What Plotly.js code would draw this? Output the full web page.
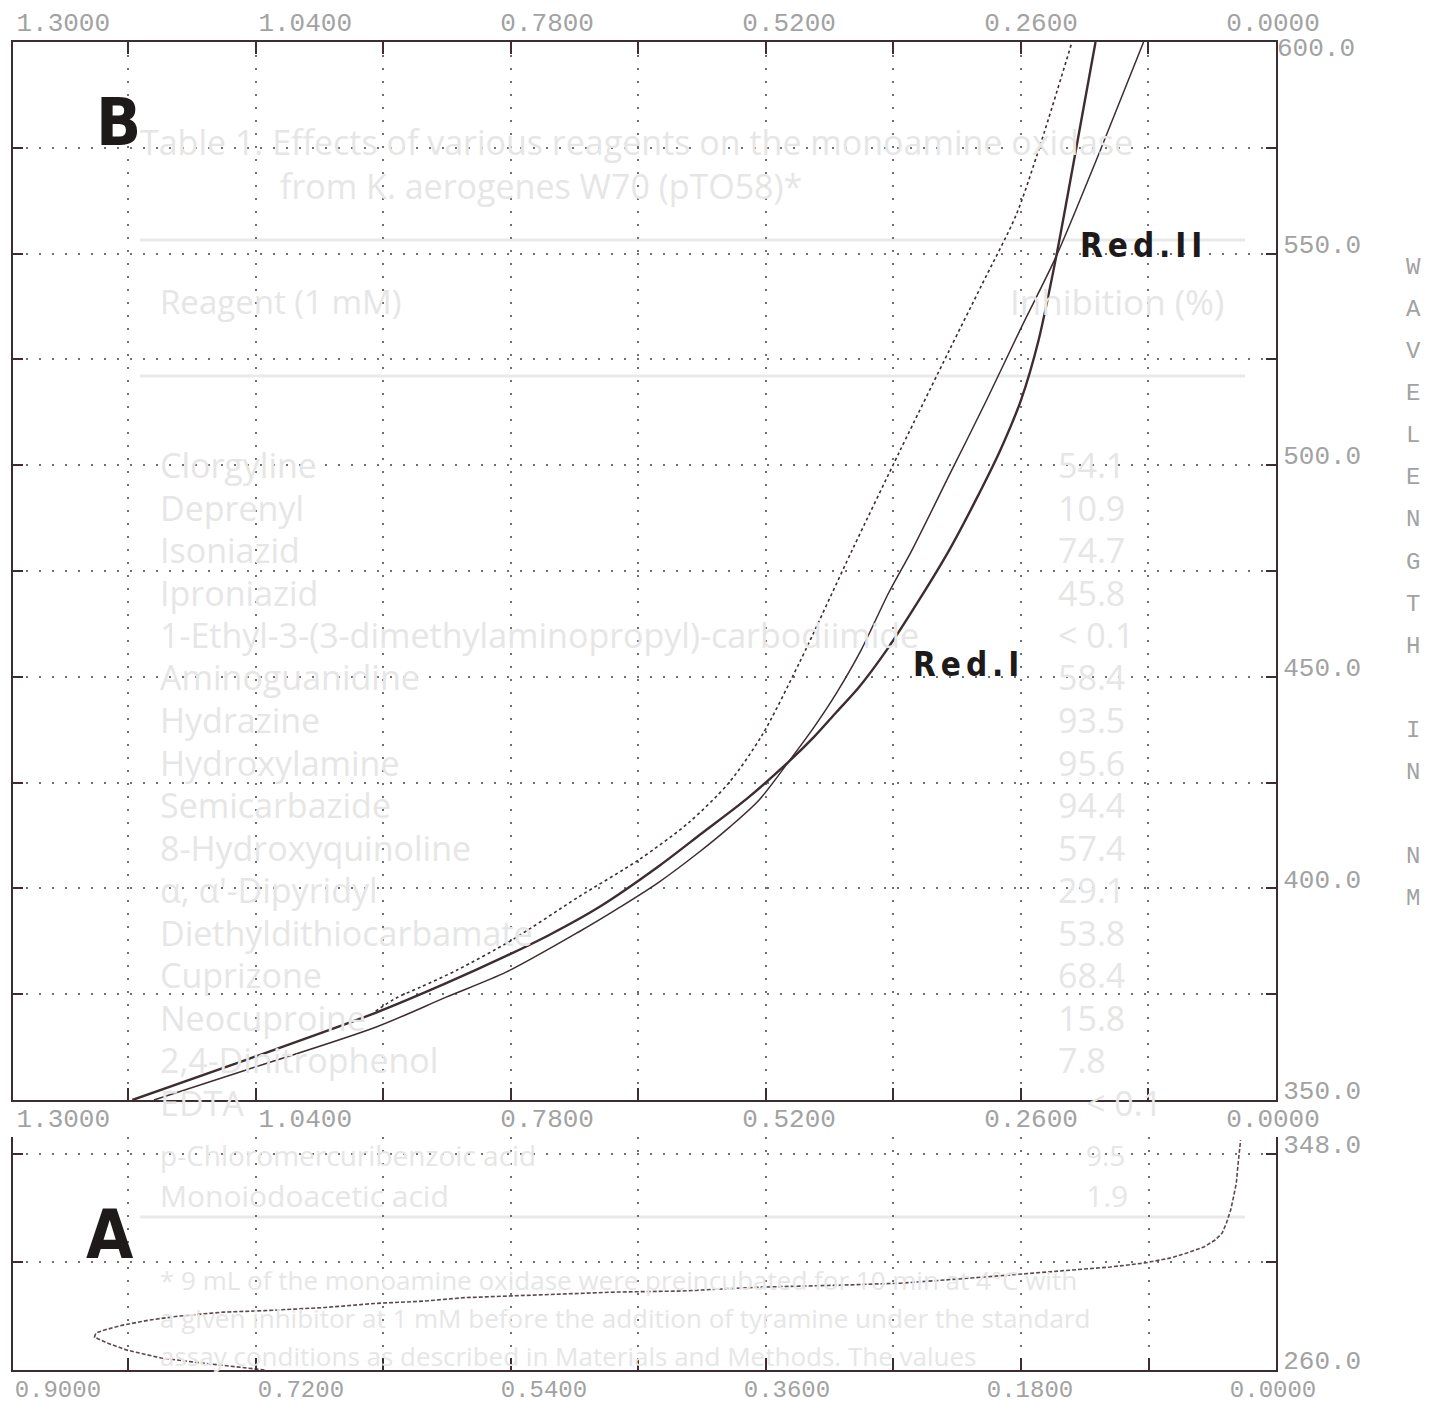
<!DOCTYPE html>
<html>
<head>
<meta charset="utf-8">
<script src="https://cdn.plot.ly/plotly-3.0.1.min.js"></script>
<style>
html,body{margin:0;padding:0;background:#ffffff;}
#chart{width:1447px;height:1405px;}
</style>
</head>
<body>
<div id="chart"></div>
<script>
// ---------- Panel B: absorbance vs wavelength (nm) ----------
const redI_wavelength  = [350.0, 359.5, 370.6, 377.6, 383.8, 389.0, 395.6, 405.3, 413.1, 421.1, 429.9, 435.8, 441.7, 447.6, 456.3, 468.1, 480.0, 491.8, 503.6, 515.4, 529.6, 549.4, 574.5, 600.0];
const redI_absorbance  = [1.166, 1.050, 0.918, 0.846, 0.787, 0.741, 0.690, 0.629, 0.585, 0.540, 0.497, 0.471, 0.448, 0.425, 0.397, 0.364, 0.333, 0.306, 0.281, 0.260, 0.242, 0.224, 0.204, 0.184];

const redII_wavelength = [350.0, 357.1, 367.2, 374.3, 380.2, 389.7, 395.4, 401.5, 408.6, 414.3, 420.9, 429.9, 438.1, 446.2, 456.3, 469.8, 480.0, 497.7, 515.4, 532.4, 549.4, 574.5, 600.0];
const redII_absorbance = [1.144, 1.050, 0.918, 0.846, 0.785, 0.711, 0.670, 0.629, 0.588, 0.558, 0.527, 0.497, 0.471, 0.448, 0.423, 0.395, 0.371, 0.333, 0.295, 0.260, 0.224, 0.179, 0.135];

const dotted_wavelength = [371.0, 374.1, 376.7, 380.7, 387.8, 398.0, 406.7, 415.5, 424.9, 436.2, 453.3, 480.0, 503.6, 527.2, 542.6, 559.1, 574.5, 600.0];
const dotted_absorbance = [0.918, 0.897, 0.872, 0.835, 0.779, 0.711, 0.650, 0.599, 0.558, 0.524, 0.486, 0.432, 0.383, 0.333, 0.300, 0.265, 0.242, 0.208];

// ---------- Panel A ----------
const a_wavelength = [260.0, 260.8, 262.0, 263.3, 264.9, 266.9, 268.1, 271.0, 273.4, 275.1, 276.3, 278.3, 280.4, 282.0, 283.6, 284.2, 285.5, 287.1, 288.1, 289.5, 290.1, 290.8, 291.4, 291.8, 292.2, 293.8, 294.6, 295.4, 297.5, 299.9, 302.0, 303.6, 305.6, 307.7, 310.1, 313.0, 315.8, 319.9, 325.2, 330.5, 336.2, 342.7, 348.8, 353.7];
const a_absorbance = [0.714, 0.727, 0.746, 0.765, 0.787, 0.801, 0.811, 0.825, 0.834, 0.833, 0.827, 0.814, 0.795, 0.774, 0.743, 0.714, 0.671, 0.637, 0.601, 0.573, 0.546, 0.520, 0.492, 0.465, 0.420, 0.364, 0.307, 0.265, 0.215, 0.166, 0.117, 0.093, 0.075, 0.063, 0.051, 0.043, 0.038, 0.035, 0.032, 0.030, 0.028, 0.027, 0.026, 0.025];

// ---------- Tick labels ----------
const bXTickVals = [1.3, 1.04, 0.78, 0.52, 0.26, 0.0];
const bXTickText = ["1.3000", "1.0400", "0.7800", "0.5200", "0.2600", "0.0000"];
const aXTickVals = [0.9, 0.72, 0.54, 0.36, 0.18, 0.0];
const aXTickText = ["0.9000", "0.7200", "0.5400", "0.3600", "0.1800", "0.0000"];
const bYTickVals = [350, 375, 400, 425, 450, 475, 500, 525, 550, 575, 600];
const bYTickText = ["350.0", "", "400.0", "", "450.0", "", "500.0", "", "550.0", "", "600.0"];
const aYTickVals = [260, 304, 348];
const aYTickText = ["260.0", "", "348.0"];
const sideTitle = "WAVELENGTH IN NM";
const panelLabels = ["B", "A"];
const curveLabels = ["R\u2006e\u2006d\u2006.\u2006I\u2006I", "R\u2006e\u2006d\u2006.\u2006I"];

// ---------- faint show-through text of the facing page ----------
const ghostTitle = ["Table 1. Effects of various reagents on the monoamine oxidase", "from K. aerogenes W70 (pTO58)*"];
const ghostHeader = ["Reagent (1 mM)", "Inhibition (%)"];
const ghostReagents = ["Clorgyline", "Deprenyl", "Isoniazid", "Iproniazid", "1-Ethyl-3-(3-dimethylaminopropyl)-carbodiimide", "Aminoguanidine", "Hydrazine", "Hydroxylamine", "Semicarbazide", "8-Hydroxyquinoline", "\u03B1, \u03B1'-Dipyridyl", "Diethyldithiocarbamate", "Cuprizone", "Neocuproine", "2,4-Dinitrophenol", "EDTA", "p-Chloromercuribenzoic acid", "Monoiodoacetic acid"];
const ghostInhibition = ["54.1", "10.9", "74.7", "45.8", "< 0.1", "58.4", "93.5", "95.6", "94.4", "57.4", "29.1", "53.8", "68.4", "15.8", "7.8", "< 0.1", "9.5", "1.9"];
const ghostFootnote = ["* 9 mL of the monoamine oxidase were preincubated for 10 min at 4\u00B0C with", "a given inhibitor at 1 mM before the addition of tyramine under the standard", "assay conditions as described in Materials and Methods. The values"];

// ---------- styling / geometry ----------
const W = 1447, H = 1405;
const px = v => v / W;
const py = v => 1 - v / H;
const INK = '#3d2c30';
const GRID = '#707070';
const GRIDDASH = '2px,11px';
const MONO = 'Liberation Mono, DejaVu Sans Mono, monospace';
const LABELGREY = '#a2a2a2';
const TICKFONT = {family: MONO, size: 26, color: LABELGREY};
const xDom = [px(13), px(1276)];
const bDom = [py(1100), py(42)];
const aDom = [py(1370), py(1137)];

const traces = [
  {x: dotted_absorbance, y: dotted_wavelength, xaxis: 'x', yaxis: 'y', mode: 'lines',
   line: {color: INK, width: 1.6, dash: '3px,3px', shape: 'spline', smoothing: 0.8}, hoverinfo: 'skip', showlegend: false},
  {x: redI_absorbance, y: redI_wavelength, xaxis: 'x', yaxis: 'y', mode: 'lines',
   line: {color: INK, width: 2.4, shape: 'spline', smoothing: 0.8}, hoverinfo: 'skip', showlegend: false},
  {x: redII_absorbance, y: redII_wavelength, xaxis: 'x', yaxis: 'y', mode: 'lines',
   line: {color: INK, width: 1.5, shape: 'spline', smoothing: 0.8}, hoverinfo: 'skip', showlegend: false},
  {x: a_absorbance, y: a_wavelength, xaxis: 'x2', yaxis: 'y2', mode: 'lines',
   line: {color: '#5a4a4c', width: 1.6, dash: '4px,2px'}, hoverinfo: 'skip', showlegend: false},
  // empty traces that register the label-only overlay axes
  {x: [null], y: [null], xaxis: 'x3', yaxis: 'y', mode: 'lines', hoverinfo: 'skip', showlegend: false},
  {x: [null], y: [null], xaxis: 'x4', yaxis: 'y', mode: 'lines', hoverinfo: 'skip', showlegend: false},
  {x: [null], y: [null], xaxis: 'x5', yaxis: 'y2', mode: 'lines', hoverinfo: 'skip', showlegend: false},
  {x: [null], y: [null], xaxis: 'x', yaxis: 'y3', mode: 'lines', hoverinfo: 'skip', showlegend: false}
];

const frameX = {
  domain: xDom, tickmode: 'linear', tick0: 0, ticks: 'inside', ticklen: 12, tickwidth: 2, tickcolor: INK,
  showticklabels: false, showline: true, linecolor: INK, linewidth: 2,
  showgrid: true, gridcolor: GRID, gridwidth: 2, griddash: GRIDDASH, zeroline: false, fixedrange: true
};
const labelX = {
  showgrid: false, zeroline: false, showline: false, ticks: '', tickmode: 'array', tickfont: TICKFONT, fixedrange: true
};
const frameY = {
  side: 'right', tickmode: 'array', ticks: 'inside', ticklen: 10, tickwidth: 2, tickcolor: INK,
  showline: true, linecolor: INK, linewidth: 2, mirror: 'ticks', showgrid: true, gridcolor: GRID,
  gridwidth: 2, griddash: GRIDDASH, zeroline: false, tickfont: TICKFONT, fixedrange: true
};

// the top label (600.0) sits a little below its line, the others a little above theirs
const mainYText = bYTickText.map((t, i) => bYTickVals[i] === 600 ? '' : t);
const topYText = bYTickText.map((t, i) => bYTickVals[i] === 600 ? t : '');

const layout = {
  width: W, height: H, margin: {l: 0, r: 0, t: 0, b: 0},
  paper_bgcolor: '#ffffff', plot_bgcolor: 'rgba(0,0,0,0)', showlegend: false,
  xaxis: Object.assign({}, frameX, {anchor: 'y', range: [1.2877, 0], dtick: 0.13, mirror: 'ticks'}),
  yaxis: Object.assign({}, frameY, {domain: bDom, anchor: 'x', range: [350, 600], tickvals: bYTickVals, ticktext: mainYText, ticklabelshift: -10}),
  yaxis3: {overlaying: 'y', anchor: 'x', side: 'right', range: [350, 600], tickmode: 'array', tickvals: bYTickVals, ticktext: topYText,
           ticks: '', showline: false, showgrid: false, zeroline: false, tickfont: TICKFONT, ticklabelshift: 5, fixedrange: true},
  xaxis2: Object.assign({}, frameX, {anchor: 'y2', range: [0.8915, 0], dtick: 0.09, mirror: false}),
  yaxis2: Object.assign({}, frameY, {domain: aDom, anchor: 'x2', range: [260, 355], tickvals: aYTickVals, ticktext: aYTickText, ticklabelshift: -10}),
  xaxis3: Object.assign({}, labelX, {overlaying: 'x', anchor: 'y', side: 'bottom', range: [1.354, -0.0032], tickvals: bXTickVals, ticktext: bXTickText, ticklabelstandoff: 0}),
  xaxis4: Object.assign({}, labelX, {overlaying: 'x', anchor: 'y', side: 'top', range: [1.354, -0.0032], tickvals: bXTickVals, ticktext: bXTickText, ticklabelstandoff: 5}),
  xaxis5: Object.assign({}, labelX, {overlaying: 'x2', anchor: 'y2', side: 'bottom', range: [0.9332, -0.0022], tickvals: aXTickVals, ticktext: aXTickText,
           tickfont: {family: MONO, size: 24, color: LABELGREY}, ticklabelstandoff: 2}),
  annotations: [],
  shapes: []
};

// faint show-through page (light grey); the last rows are nudged to clear the axis labels
const GHOST = {family: 'Open Sans, Noto Sans, sans-serif', size: 34, color: '#e6e6e6'};
const ghostAnn = (t, x, y, size) => ({text: t, xref: 'paper', yref: 'paper', x: px(x), y: py(y), xanchor: 'left', yanchor: 'middle', showarrow: false,
  font: Object.assign({}, GHOST, {size: size})});
layout.annotations.push(ghostAnn(ghostTitle[0], 138, 142, 34));
layout.annotations.push(ghostAnn(ghostTitle[1], 278, 186, 34));
layout.annotations.push(ghostAnn(ghostHeader[0], 158, 301, 33));
layout.annotations.push(ghostAnn(ghostHeader[1], 1008, 301, 35));
const rowY = i => (i === 16 ? 1155 : i === 17 ? 1195 : 465 + 42.5 * i);
const rowSize = i => (i === 16 ? 28 : i === 17 ? 30 : 34);
const valX = i => (i >= 15 ? 1084 : 1056);
ghostReagents.forEach((r, i) => {
  layout.annotations.push(ghostAnn(r, 158, rowY(i), rowSize(i)));
  layout.annotations.push(ghostAnn(ghostInhibition[i], valX(i), rowY(i), rowSize(i)));
});
ghostFootnote.forEach((f, i) => layout.annotations.push(ghostAnn(f, 158, 1280 + 38 * i, 26)));
[240, 376, 1217].forEach(yy => layout.shapes.push({type: 'line', xref: 'paper', yref: 'paper', x0: px(140), x1: px(1245), y0: py(yy), y1: py(yy), line: {color: '#e9e9e9', width: 3}, layer: 'below'}));

// vertical axis title, one letter per row
Array.from(sideTitle).forEach((ch, i) => {
  if (ch === ' ') return;
  layout.annotations.push({text: ch, xref: 'paper', yref: 'paper', x: px(1413), y: py(268 + 42 * i),
    xanchor: 'center', yanchor: 'middle', showarrow: false,
    font: {family: MONO, size: 24, color: LABELGREY}});
});

// panel letters and curve labels
const BOLD = {family: 'Liberation Sans Narrow, DejaVu Sans Condensed, Arial Narrow, sans-serif', weight: 'bold', color: '#1e1a1a'};
layout.annotations.push({text: panelLabels[0], xref: 'paper', yref: 'paper', x: px(118), y: py(122), xanchor: 'center', yanchor: 'middle', showarrow: false, font: Object.assign({}, BOLD, {size: 66})});
layout.annotations.push({text: panelLabels[1], xref: 'paper', yref: 'paper', x: px(110), y: py(1234), xanchor: 'center', yanchor: 'middle', showarrow: false, font: Object.assign({}, BOLD, {size: 68})});
layout.annotations.push({text: curveLabels[0], xref: 'paper', yref: 'paper', x: px(1078), y: py(245), xanchor: 'left', yanchor: 'middle', showarrow: false, font: Object.assign({}, BOLD, {size: 33})});
layout.annotations.push({text: curveLabels[1], xref: 'paper', yref: 'paper', x: px(911), y: py(665), xanchor: 'left', yanchor: 'middle', showarrow: false, font: Object.assign({}, BOLD, {size: 33})});

Plotly.newPlot('chart', traces, layout, {staticPlot: true, displayModeBar: false});
</script>
</body>
</html>
